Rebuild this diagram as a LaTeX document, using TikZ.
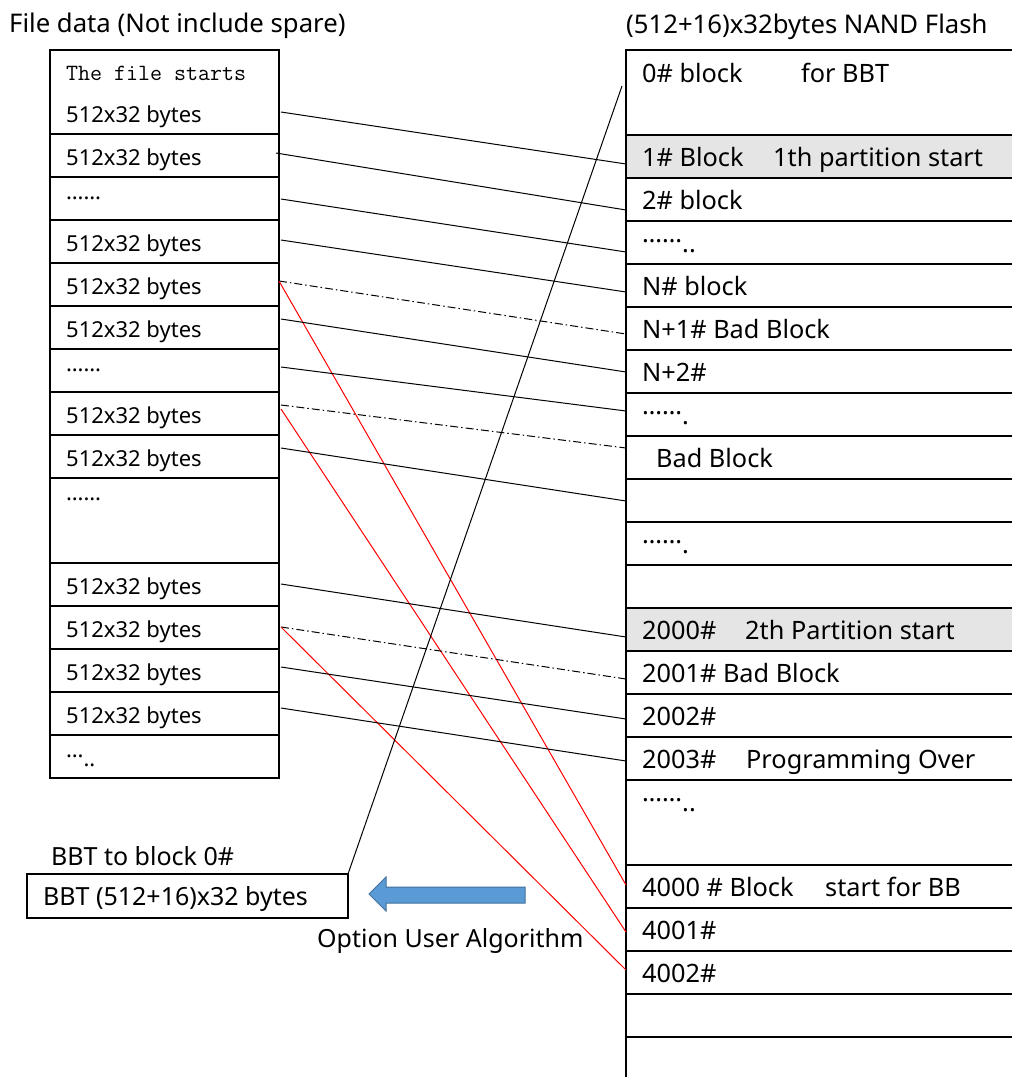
\documentclass[tikz,border=0pt]{standalone}
\usepackage{fontspec}
\setmainfont{Noto Sans}
\newcommand\mydots{\raisebox{0.38em}{……}}
\newcommand\lfont{\fontsize{22}{26}\selectfont}
\newcommand\rfont{\fontsize{25.3}{28}\selectfont}
\newcommand\tfont{\fontsize{25.7}{30}\selectfont}
\begin{document}
\begin{tikzpicture}[x=1pt,y=-1pt,
  lrow/.style={draw, line width=2.4pt, minimum width=229pt, minimum height=43pt, anchor=north west, inner sep=0pt, outer sep=0pt},
  rrow/.style={draw, line width=2.4pt, minimum width=420pt, minimum height=43pt, anchor=north west, inner sep=0pt, outer sep=0pt},
  shaded/.style={fill=gray!20},
  ltxt/.style={anchor=base west, inner sep=0pt, font=\lfont},
  rtxt/.style={anchor=base west, inner sep=0pt, font=\rfont},
  ttxt/.style={anchor=base west, inner sep=0pt, font=\tfont},
  conn/.style={line width=1pt, black},
  dd/.style={line width=1pt, black, dash pattern=on 8pt off 3pt on 1.5pt off 3pt},
  redl/.style={line width=1pt, red}]
\clip (0,0) rectangle (1012,1077);
\fill[white] (0,0) rectangle (1012,1077);

% titles
\node[ttxt] (t1) at (9,32) {File data (Not include spare)};
\node[ttxt] (t2) at (626,33) {(512+16)x32bytes NAND Flash};

% left table
\node[lrow, minimum height=84pt] (L1) at (50,50) {};
\node[lrow] (L2) at (50,134) {};
\node[lrow] (L3) at (50,177) {};
\node[lrow] (L4) at (50,220) {};
\node[lrow] (L5) at (50,263) {};
\node[lrow] (L6) at (50,306) {};
\node[lrow] (L7) at (50,349) {};
\node[lrow] (L8) at (50,392) {};
\node[lrow] (L9) at (50,435) {};
\node[lrow, minimum height=85pt] (L10) at (50,478) {};
\node[lrow] (L11) at (50,563) {};
\node[lrow] (L12) at (50,606) {};
\node[lrow] (L13) at (50,649) {};
\node[lrow] (L14) at (50,692) {};
\node[lrow] (L15) at (50,735) {};

\node[anchor=base west, inner sep=0pt, font=\fontsize{23.3}{26}\ttfamily] (lt0) at (66,80) {The file starts};
\node[ltxt] (lt1) at (66,122) {512x32 bytes};
\node[ltxt] (lt2) at (66,165) {512x32 bytes};
\node[ltxt] (lt3) at (66,208) {\mydots};
\node[ltxt] (lt4) at (66,251) {512x32 bytes};
\node[ltxt] (lt5) at (66,294) {512x32 bytes};
\node[ltxt] (lt6) at (66,337) {512x32 bytes};
\node[ltxt] (lt7) at (66,380) {\mydots};
\node[ltxt] (lt8) at (66,423) {512x32 bytes};
\node[ltxt] (lt9) at (66,466) {512x32 bytes};
\node[ltxt] (lt10) at (66,509) {\mydots};
\node[ltxt] (lt11) at (66,594) {512x32 bytes};
\node[ltxt] (lt12) at (66,637) {512x32 bytes};
\node[ltxt] (lt13) at (66,680) {512x32 bytes};
\node[ltxt] (lt14) at (66,723) {512x32 bytes};
\node[ltxt] (lt15) at (66,766) {\raisebox{0.38em}{…}..};

% right table
\node[rrow, minimum height=85pt] (R0) at (626,50) {};
\node[rrow, shaded] (R1) at (626,135) {};
\node[rrow] (R2) at (626,178) {};
\node[rrow] (R3) at (626,221) {};
\node[rrow] (R4) at (626,264) {};
\node[rrow] (R5) at (626,307) {};
\node[rrow] (R6) at (626,350) {};
\node[rrow] (R7) at (626,393) {};
\node[rrow] (R8) at (626,436) {};
\node[rrow] (R9) at (626,479) {};
\node[rrow] (R10) at (626,522) {};
\node[rrow] (R11) at (626,565) {};
\node[rrow, shaded] (R12) at (626,608) {};
\node[rrow] (R13) at (626,651) {};
\node[rrow] (R14) at (626,694) {};
\node[rrow] (R15) at (626,737) {};
\node[rrow, minimum height=85pt] (R16) at (626,780) {};
\node[rrow] (R17) at (626,865) {};
\node[rrow] (R18) at (626,908) {};
\node[rrow] (R19) at (626,951) {};
\node[rrow] (R20) at (626,994) {};
\node[rrow, minimum height=80pt] (R21) at (626,1037) {};

\node[rtxt] (rt0) at (642,82) {\makebox[159pt][l]{0\# block}for BBT};
\node[rtxt] (rt1) at (642,166) {\makebox[131pt][l]{1\# Block}1th partition start};
\node[rtxt] (rt2) at (642,209) {2\# block};
\node[rtxt] (rt3) at (642,252) {\mydots..};
\node[rtxt] (rt4) at (642,295) {N\# block};
\node[rtxt] (rt5) at (642,338) {N+1\# Bad Block};
\node[rtxt] (rt6) at (642,381) {N+2\#};
\node[rtxt] (rt7) at (642,424) {\mydots.};
\node[rtxt] (rt8) at (656,467) {Bad Block};
\node[rtxt] (rt10) at (642,553) {\mydots.};
\node[rtxt] (rt12) at (642,639) {\makebox[103pt][l]{2000\#}2th Partition start};
\node[rtxt] (rt13) at (642,682) {2001\# Bad Block};
\node[rtxt] (rt14) at (642,725) {2002\#};
\node[rtxt] (rt15) at (642,768) {\makebox[104pt][l]{2003\#}Programming Over};
\node[rtxt] (rt16) at (642,811) {\mydots..};
\node[rtxt] (rt17) at (642,896) {\makebox[183pt][l]{4000 \# Block}start for BB};
\node[rtxt] (rt18) at (642,939) {4001\#};
\node[rtxt] (rt19) at (642,982) {4002\#};

% BBT box
\node[ttxt, font=\fontsize{25}{28}\selectfont] (bbtl) at (51,865) {BBT to block 0\#};
\node[draw, line width=2.4pt, anchor=north west, minimum width=321pt, minimum height=44pt, inner sep=0pt, outer sep=0pt] (BBT) at (27,874) {};
\node[ttxt, font=\fontsize{25}{28}\selectfont] (bbtt) at (43,905) {BBT (512+16)x32 bytes};
\node[ttxt, font=\fontsize{25}{28}\selectfont] (opt) at (317,947) {Option User Algorithm};

% blue arrow
\draw[fill={rgb,255:red,91;green,155;blue,213}, draw={rgb,255:red,65;green,113;blue,156}, line width=1pt]
  (369,894) -- (386,877) -- (386,887) -- (525,887) -- (525,903) -- (386,903) -- (386,911) -- cycle;

% connectors
\draw[conn] ([shift={(2,20)}]L1.east) -- ([shift={(0,7.5)}]R1.west);
\draw[conn] ([shift={(-3,-2.5)}]L2.east) -- ([shift={(0,10.5)}]R2.west);
\draw[conn] ([shift={(2,0.5)}]L3.east) -- ([shift={(0,9.5)}]R3.west);
\draw[conn] ([shift={(2,-1.5)}]L4.east) -- ([shift={(0,6.5)}]R4.west);
\draw[dd] ([shift={(0,-3.5)}]L5.east) -- ([shift={(0,5.5)}]R5.west);
\draw[redl] ([shift={(0,-3.5)}]L5.east) -- ([shift={(0,-1.5)}]R17.west);
\draw[conn] ([shift={(2,-8.5)}]L6.east) -- ([shift={(0,0.5)}]R6.west);
\draw[conn] ([shift={(2,-3.5)}]L7.east) -- ([shift={(0,-3.5)}]R7.west);
\draw[dd] ([shift={(2,-8.5)}]L8.east) -- ([shift={(0,-9.5)}]R8.west);
\draw[redl] ([shift={(2,-4.5)}]L8.east) -- ([shift={(0,2.5)}]R18.west);
\draw[conn] ([shift={(2,-8.5)}]L9.east) -- ([shift={(0,0.5)}]R9.west);
\draw[conn] ([shift={(2,-0.5)}]L11.east) -- ([shift={(0,7.5)}]R12.west);
\draw[dd] ([shift={(2,-0.5)}]L12.east) -- ([shift={(0,6.5)}]R13.west);
\draw[redl] ([shift={(2,-0.5)}]L12.east) -- ([shift={(0,-2.5)}]R19.west);
\draw[conn] ([shift={(2,-3.5)}]L13.east) -- ([shift={(0,3.5)}]R14.west);
\draw[conn] ([shift={(2,-5.5)}]L14.east) -- ([shift={(0,2.5)}]R15.west);
\draw[conn] (BBT.north east) -- ([shift={(-4,-6.5)}]R0.west);
\end{tikzpicture}
\end{document}
